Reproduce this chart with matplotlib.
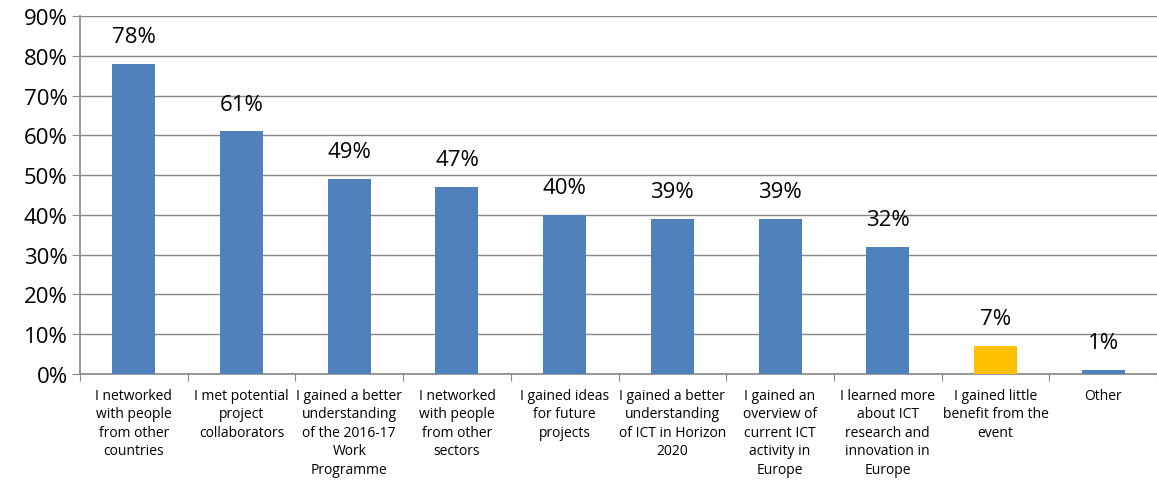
import numpy as np
import matplotlib.pyplot as plt
from matplotlib.ticker import FuncFormatter

# data
categories = [
    "I networked\nwith people\nfrom other\ncountries",
    "I met potential\nproject\ncollaborators",
    "I gained a better\nunderstanding\nof the 2016-17\nWork\nProgramme",
    "I networked\nwith people\nfrom other\nsectors",
    "I gained ideas\nfor future\nprojects",
    "I gained a better\nunderstanding\nof ICT in Horizon\n2020",
    "I gained an\noverview of\ncurrent ICT\nactivity in\nEurope",
    "I learned more\nabout ICT\nresearch and\ninnovation in\nEurope",
    "I gained little\nbenefit from the\nevent",
    "Other",
]
values = [78, 61, 49, 47, 40, 39, 39, 32, 7, 1]
highlight = [False] * 8 + [True, False]

blue = "#4F81BD"
orange = "#FFC000"
grey = "#888888"

plt.rcParams["font.family"] = ["Open Sans", "DejaVu Sans"]

fig = plt.figure(figsize=(11.57, 4.85), dpi=100)
ax = fig.add_axes([80 / 1157, 110 / 485, 1 - 80 / 1157, 358 / 485])

x = np.arange(len(values))
colors = [orange if h else blue for h in highlight]
bars = ax.bar(x, values, width=0.4, color=colors, zorder=3)

for xi, v in zip(x, values):
    ax.annotate(f"{v}%", (xi, v), xytext=(0, 12), textcoords="offset points",
                ha="center", va="bottom", fontsize=16)

ax.set_xlim(-0.5, len(values) - 0.5)
ax.set_ylim(0, 90)
ax.set_yticks(range(0, 91, 10))
ax.yaxis.set_major_formatter(FuncFormatter(lambda v, p: f"{v:.0f}%"))
ax.tick_params(axis="y", labelsize=16, length=6, color=grey, pad=3)
ax.grid(axis="y", color=grey, linewidth=1, zorder=0)

# ticks between categories, labels at centres
ax.set_xticks(np.arange(-0.5, len(values), 1))
ax.set_xticklabels([])
ax.tick_params(axis="x", which="major", length=5, color=grey)
ax.set_xticks(x, minor=True)
ax.set_xticklabels(categories, minor=True, fontsize=10, linespacing=1.32)
ax.tick_params(axis="x", which="minor", length=0, pad=10)

for s in ["top", "right"]:
    ax.spines[s].set_visible(False)
for s in ["left", "bottom"]:
    ax.spines[s].set_color(grey)
    ax.spines[s].set_linewidth(1.2)

fig.savefig("out.png", dpi=100)
